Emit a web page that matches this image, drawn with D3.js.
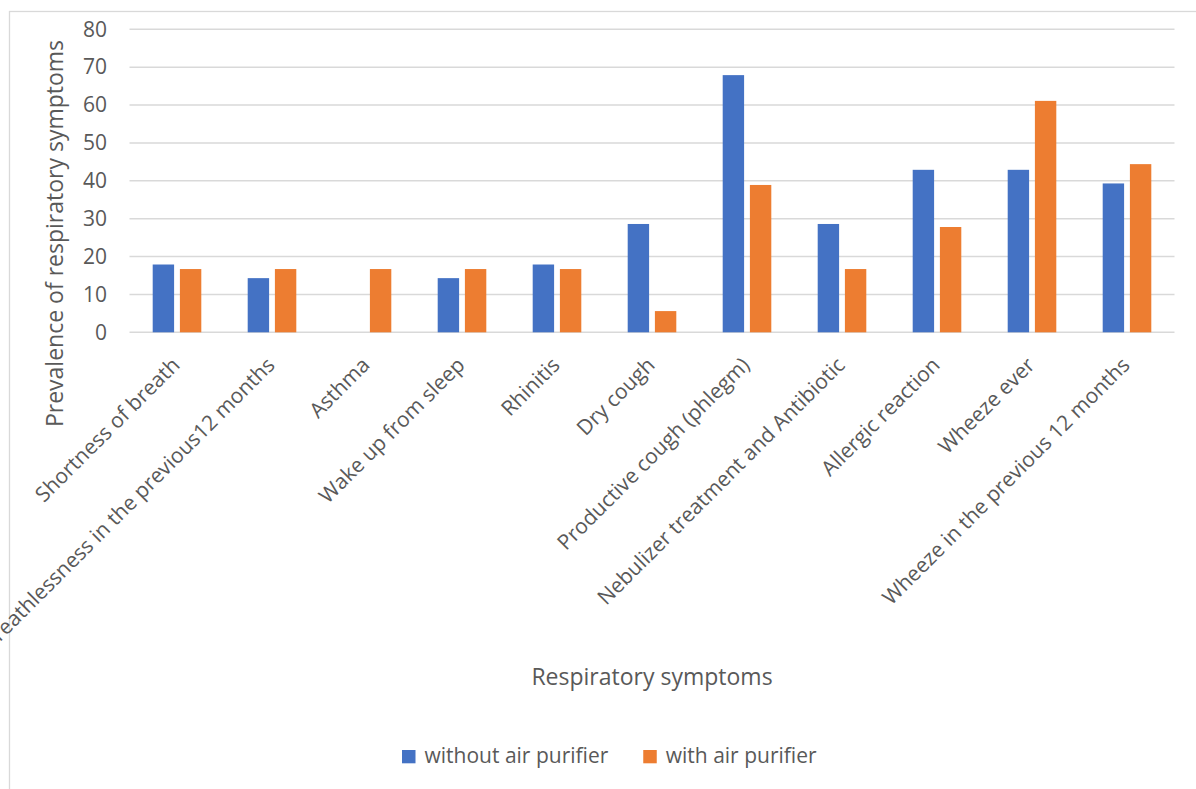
<!DOCTYPE html>
<html>
<head>
<meta charset="utf-8">
<script src="https://cdn.jsdelivr.net/npm/d3@7"></script>
<style>
  html, body { margin: 0; padding: 0; background: #fff; }
  svg { display: block; }
  text { font-family: "Open Sans", "Noto Sans", sans-serif; fill: #595959; }
</style>
</head>
<body>
<script>
// ---- data ----
const categories = [
  "Shortness of breath",
  "Breathlessness in the previous12 months",
  "Asthma",
  "Wake up from sleep",
  "Rhinitis",
  "Dry cough",
  "Productive cough (phlegm)",
  "Nebulizer treatment and Antibiotic",
  "Allergic reaction",
  "Wheeze ever",
  "Wheeze in the previous 12 months"
];
const seriesNames = ["without air purifier", "with air purifier"];
const withoutPurifier = [17.9, 14.3, 0, 14.3, 17.9, 28.6, 67.9, 28.6, 42.9, 42.9, 39.3];
const withPurifier    = [16.7, 16.7, 16.7, 16.7, 16.7, 5.6, 38.9, 16.7, 27.8, 61.1, 44.4];
const yTicks = [0, 10, 20, 30, 40, 50, 60, 70, 80];
const seriesColors = ["#4472C4", "#ED7D31"];
const yTitle = "Prevalence of respiratory symptoms";
const xTitle = "Respiratory symptoms";

// ---- layout ----
const W = 1196, H = 789;
const plot = { left: 129.5, right: 1174.5, top: 29.3, bottom: 332.3 };

const svg = d3.select("body").append("svg").attr("width", W).attr("height", H);
svg.append("rect").attr("width", W).attr("height", H).attr("fill", "#fff");

// chart border (left & top visible)
svg.append("rect")
  .attr("x", 9.5).attr("y", 11.5).attr("width", 1300).attr("height", 900)
  .attr("fill", "none").attr("stroke", "#d9d9d9").attr("stroke-width", 1.3);

const x = d3.scaleBand().domain(categories).range([plot.left, plot.right]).padding(0);
const y = d3.scaleLinear().domain([0, 80]).range([plot.bottom, plot.top]);
const xSub = d3.scaleBand().domain(seriesNames).range([0, x.bandwidth()])
  .paddingInner(0.213).paddingOuter(0.853);

// gridlines
svg.append("g").selectAll("line").data(yTicks).join("line")
  .attr("x1", plot.left).attr("x2", plot.right)
  .attr("y1", d => y(d)).attr("y2", d => y(d))
  .attr("stroke", "#d9d9d9").attr("stroke-width", 1.4);

// y-axis tick labels
const yAxis = d3.axisLeft(y).tickValues(yTicks).tickSize(0).tickPadding(0);
const gy = svg.append("g").attr("transform", `translate(107,0)`).call(yAxis);
gy.select(".domain").remove();
gy.selectAll("text").attr("font-size", 21).attr("fill", "#595959")
  .style("font-family", '"Open Sans", sans-serif');

// bars
const rows = categories.map((c, i) => ({ c, vals: [withoutPurifier[i], withPurifier[i]] }));
const groups = svg.append("g").selectAll("g").data(rows).join("g")
  .attr("transform", d => `translate(${x(d.c)},0)`);
groups.selectAll("rect").data(d => d.vals.map((v, k) => ({ k, v })).filter(e => e.v > 0)).join("rect")
  .attr("x", e => xSub(seriesNames[e.k]))
  .attr("width", xSub.bandwidth())
  .attr("y", e => y(e.v))
  .attr("height", e => y(0) - y(e.v))
  .attr("fill", e => seriesColors[e.k]);

// x-axis category labels
const xAxis = d3.axisBottom(x).tickSize(0).tickPadding(0);
const gx = svg.append("g").attr("transform", `translate(0,${plot.bottom})`).call(xAxis);
gx.select(".domain").remove();
gx.selectAll("text")
  .attr("font-size", 21).attr("fill", "#595959")
  .style("font-family", '"Open Sans", sans-serif')
  .attr("text-anchor", "end")
  .attr("dy", 0).attr("y", 0)
  .attr("transform", "translate(4,34) rotate(-45)");

// axis titles
svg.append("text")
  .attr("transform", `translate(63,233.5) rotate(-90)`)
  .attr("text-anchor", "middle").attr("font-size", 23)
  .text(yTitle);
svg.append("text")
  .attr("x", 652).attr("y", 685)
  .attr("text-anchor", "middle").attr("font-size", 23)
  .text(xTitle);

// legend
const legend = svg.append("g");
let lx = 402;
seriesNames.forEach((name, k) => {
  legend.append("rect").attr("x", lx).attr("y", 750).attr("width", 13.5).attr("height", 13.3)
    .attr("fill", seriesColors[k]);
  const t = legend.append("text").attr("x", lx + 13.5 + 9).attr("y", 763)
    .attr("font-size", 21).text(name);
  const w = t.node().getComputedTextLength();
  lx = lx + 13.5 + 9 + w + 35;
});
</script>
</body>
</html>
